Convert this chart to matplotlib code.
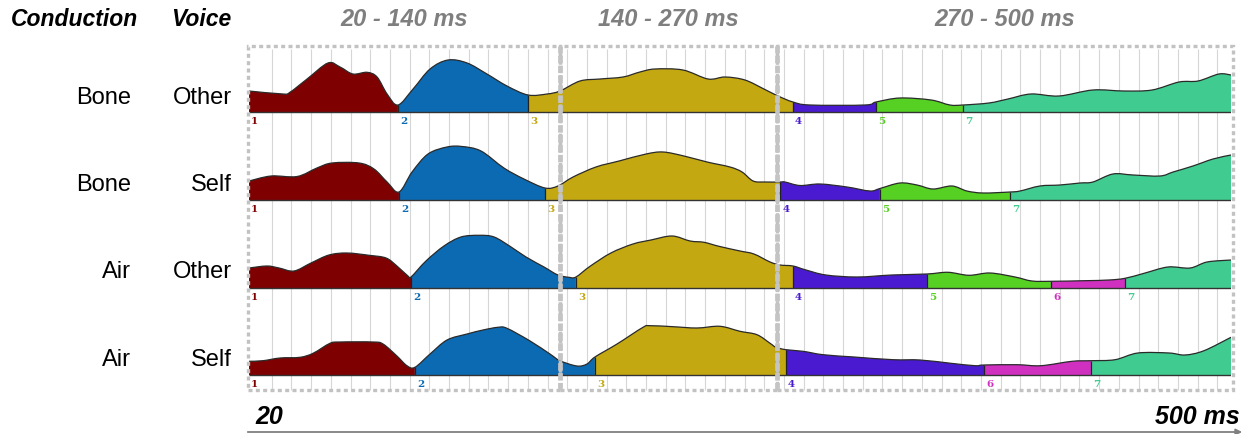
import numpy as np
import matplotlib
matplotlib.use("Agg")
import matplotlib.pyplot as plt
from matplotlib.patches import Rectangle, FancyArrowPatch, PathPatch
from matplotlib.path import Path
from matplotlib.lines import Line2D

plt.rcParams["font.family"] = ["Liberation Sans", "DejaVu Sans"]

W, H = 1247, 435

conduction = ["Bone", "Bone", "Air", "Air"]
voice = ["Other", "Self", "Other", "Self"]
windows = ["20 - 140 ms", "140 - 270 ms", "270 - 500 ms"]

map_colors = {1: "#7f0000", 2: "#0b6ab2", 3: "#c4a812", 4: "#4a1ad0",
              5: "#56d022", 6: "#d030c0", 7: "#40cc90"}

# GFP traces (ms, amplitude) and microstate segment boundaries per condition
bone_other_t = [20.0, 36.6, 40.0, 48.4, 58.6, 64.5, 70.8, 77.7, 82.6, 87.5, 92.8,
                100.2, 108.5, 117.3, 126.6, 136.3, 146.1, 156.4, 165.7, 172.0, 181.8,
                191.6, 202.8, 211.1, 218.5, 232.1, 244.4, 252.7, 262.4, 271.7, 278.6,
                285.9, 294.2, 321.1, 326.5, 338.2, 353.4, 362.6, 369.0, 381.7, 391.0,
                402.2, 415.9, 432.5, 447.7, 461.4, 474.6, 483.9, 494.1, 500.0]
bone_other_gfp = [2.1, 1.8, 1.97, 3.3, 4.9, 4.5, 3.8, 3.97, 3.5, 1.8, 0.7,
                  2.3, 4.3, 5.2, 4.9, 3.8, 2.6, 1.7, 1.8, 2.1, 3.1,
                  3.3, 3.5, 4.0, 4.3, 4.2, 3.3, 3.5, 3.2, 2.3, 1.6,
                  1.0, 0.7, 0.7, 1.0, 1.4, 1.2, 0.7, 0.7, 0.9, 1.3,
                  1.8, 1.6, 2.2, 2.1, 2.2, 3.0, 3.1, 3.8, 3.7]
bone_other_bounds = [20.0, 92.8, 156.4, 285.9, 326.5, 369.0, 500.0]
bone_other_maps = [1, 2, 3, 4, 5, 7]

bone_self_t = [20.0, 30.8, 43.5, 53.2, 60.6, 73.8, 81.1, 87.5, 93.3, 99.7, 107.5,
               116.8, 124.1, 133.4, 144.6, 154.4, 164.7, 171.0, 178.4, 189.6, 200.9,
               214.1, 222.4, 232.6, 243.9, 255.1, 261.0, 266.4, 272.2, 279.6, 282.0,
               289.3, 299.1, 312.3, 323.5, 328.4, 338.2, 346.5, 354.3, 363.6, 370.9,
               378.8, 392.0, 396.9, 406.6, 416.4, 426.2, 432.5, 442.3, 452.1, 465.3,
               471.7, 481.4, 491.2, 500.0]
bone_self_gfp = [1.9, 2.4, 2.35, 3.2, 3.7, 3.7, 3.1, 1.8, 0.8, 2.8, 4.6,
                 5.3, 5.35, 4.9, 3.2, 2.1, 1.2, 1.4, 2.3, 3.3, 3.9,
                 4.6, 4.8, 4.4, 3.8, 3.3, 2.8, 1.9, 1.8, 1.8, 1.8,
                 1.45, 1.6, 1.3, 0.9, 1.15, 1.7, 1.5, 1.1, 1.4, 0.9,
                 0.7, 0.8, 0.9, 1.4, 1.5, 1.7, 1.8, 2.6, 2.5, 2.4,
                 2.8, 3.4, 4.1, 4.5]
bone_self_bounds = [20.0, 93.3, 164.7, 279.6, 328.4, 392.0, 500.0]
bone_self_maps = [1, 2, 3, 4, 5, 7]

air_other_t = [20.0, 28.8, 34.7, 42.0, 50.3, 59.1, 67.9, 78.7, 87.0, 92.3, 97.7,
               99.2, 106.5, 115.3, 123.6, 132.4, 139.8, 148.1, 155.4, 164.2, 171.0,
               176.4, 179.8, 186.7, 196.9, 207.7, 216.5, 226.8, 235.6, 242.4, 249.7,
               260.0, 266.8, 274.7, 279.6, 285.9, 291.8, 302.0, 317.2, 334.3, 351.4,
               361.7, 371.9, 382.2, 394.4, 402.7, 412.0, 428.6, 440.4, 448.2, 457.5,
               469.2, 480.0, 488.3, 500.0]
air_other_gfp = [2.0, 2.2, 2.0, 1.7, 2.5, 3.3, 3.5, 3.27, 3.0, 2.2, 1.2,
                 1.1, 2.7, 4.2, 5.1, 5.27, 5.1, 4.1, 3.1, 2.1, 1.3,
                 1.07, 1.1, 2.17, 3.5, 4.4, 4.8, 5.2, 4.7, 4.57, 4.17,
                 3.7, 3.4, 2.6, 2.3, 2.2, 1.83, 1.3, 1.1, 1.3, 1.4,
                 1.57, 1.27, 1.5, 1.1, 0.7, 0.67, 0.73, 0.8, 0.97, 1.47,
                 2.1, 2.0, 2.6, 2.8]
air_other_bounds = [20.0, 99.2, 179.8, 285.9, 351.4, 412.0, 448.2, 500.0]
air_other_maps = [1, 2, 3, 4, 5, 6, 7]

air_self_t = [20.0, 26.8, 35.2, 44.9, 51.3, 59.6, 64.5, 80.6, 85.5, 92.3, 97.2,
              101.1, 108.5, 116.8, 126.6, 134.4, 141.7, 146.1, 157.4, 167.1, 172.0,
              180.3, 185.2, 189.1, 199.9, 212.6, 216.0, 227.3, 239.0, 250.2, 260.0,
              268.3, 274.7, 277.6, 282.5, 290.8, 300.6, 315.7, 334.8, 348.0, 363.1,
              374.9, 379.3, 395.4, 407.1, 422.3, 431.6, 443.3, 454.5, 469.7, 477.5,
              486.8, 500.0]
air_self_gfp = [1.37, 1.43, 1.7, 1.77, 2.17, 3.17, 3.3, 3.3, 3.1, 1.9, 0.93,
                0.77, 2.1, 3.5, 4.1, 4.5, 4.77, 4.67, 3.4, 2.1, 1.43,
                0.9, 1.1, 1.8, 3.1, 4.77, 4.93, 4.83, 4.7, 4.87, 4.37,
                4.03, 3.17, 2.77, 2.53, 2.37, 2.03, 1.8, 1.53, 1.5, 1.17,
                0.93, 1.0, 1.03, 0.93, 1.37, 1.43, 1.53, 2.2, 2.2, 2.0,
                2.43, 3.77]
air_self_bounds = [20.0, 101.1, 189.1, 282.5, 379.3, 431.6, 500.0]
air_self_maps = [1, 2, 3, 4, 6, 7]

rows = [
    (bone_other_t, bone_other_gfp, bone_other_bounds, bone_other_maps),
    (bone_self_t, bone_self_gfp, bone_self_bounds, bone_self_maps),
    (air_other_t, air_other_gfp, air_other_bounds, air_other_maps),
    (air_self_t, air_self_gfp, air_self_bounds, air_self_maps),
]

# layout (pixels from top-left)
row_base_px = [113, 201, 289, 376]
row_text_px = [98, 185, 272, 360]
strip_x0, strip_x1 = 249, 1231
ax_top, ax_bot = 40, 395
box_px = [248, 560, 777, 1233]
box_top, box_bot = 47, 391


def fx(px):
    return px / W


def fy(py):
    return 1 - py / H


def smooth_ctrl(P):
    # Catmull-Rom handles as cubic Bezier control points
    Pm = np.vstack([P[0], P, P[-1]])
    n = len(P)
    c1 = P[:-1] + (Pm[2:n + 1] - Pm[0:n - 1]) / 6
    c2 = P[1:] - (Pm[3:n + 2] - Pm[1:n]) / 6
    return c1, c2


def curve_verts(P, c1, c2, i0, i1):
    verts = [P[i0]]
    codes = [Path.MOVETO]
    for i in range(i0, i1):
        verts += [c1[i], c2[i], P[i + 1]]
        codes += [Path.CURVE4] * 3
    return verts, codes


fig = plt.figure(figsize=(W / 100, H / 100), dpi=100)
ax = fig.add_axes([fx(strip_x0), fy(ax_bot), (strip_x1 - strip_x0) / W, (ax_bot - ax_top) / H])
ax.set_xlim(20, 500)
ax.set_ylim(0, (ax_bot - ax_top) / 10)
ax.axis("off")

# time grid
grid_x = 31.1 + 9.63 * np.arange(49)
ax.vlines(grid_x, (ax_bot - box_bot) / 10, (ax_bot - 50) / 10, color="#d6d6d6", lw=0.8, zorder=0)

for (t, g, bounds, maps), base_px in zip(rows, row_base_px):
    t = np.array(t)
    g = np.array(g)
    base = (ax_bot - base_px) / 10
    P = np.column_stack([t, base + g])
    c1, c2 = smooth_ctrl(P)
    idx = [int(np.where(t == b)[0][0]) for b in bounds]
    for i0, i1, m in zip(idx[:-1], idx[1:], maps):
        verts, codes = curve_verts(P, c1, c2, i0, i1)
        verts += [(t[i1], base), (t[i0], base), (t[i0], base)]
        codes += [Path.LINETO, Path.LINETO, Path.CLOSEPOLY]
        ax.add_patch(PathPatch(Path(verts, codes), fc=map_colors[m], lw=0, zorder=2))
        b0 = t[i0]
        lx = b0 + 1.0 if b0 > 20 else 21.0
        ax.text(lx, base - 0.85, str(m), color=map_colors[m], fontsize=7.5,
                fontweight="bold", family="DejaVu Serif", ha="left", va="center", zorder=4)
    for i in idx[1:-1]:
        ax.vlines(t[i], base, base + g[i], color="#222222", lw=0.9, zorder=3)
    verts, codes = curve_verts(P, c1, c2, 0, len(t) - 1)
    ax.add_patch(PathPatch(Path(verts, codes), fill=False, ec="#2a2a2a", lw=0.9, zorder=3))
    ax.hlines(base, 20, 500, color="#333333", lw=1.0, zorder=3)

# time-window boxes
for x0, x1 in zip(box_px[:-1], box_px[1:]):
    fig.add_artist(Rectangle((fx(x0), fy(box_bot)), (x1 - x0) / W, (box_bot - box_top) / H,
                             transform=fig.transFigure, fill=False, ec="#c2c2c2",
                             lw=2.4, linestyle=(0, (1.2, 1.0)), zorder=5))
# shared edges between windows are drawn heavier
for xd in box_px[1:-1]:
    fig.add_artist(Line2D([fx(xd), fx(xd)], [fy(box_bot), fy(box_top)], transform=fig.transFigure,
                          color="#c4c4c4", lw=3.4, linestyle=(0, (1.6, 0.5)), zorder=5))

for x0, x1, lab in zip(box_px[:-1], box_px[1:], windows):
    fig.text(fx((x0 + x1) / 2), fy(20), lab, ha="center", va="center", fontsize=17,
             fontweight="bold", style="italic", color="#7f7f7f")

fig.text(fx(74), fy(20), "Conduction", ha="center", va="center", fontsize=16.5,
         fontweight="bold", style="italic")
fig.text(fx(201), fy(20), "Voice", ha="center", va="center", fontsize=16.5,
         fontweight="bold", style="italic")

for c, v, py in zip(conduction, voice, row_text_px):
    fig.text(fx(131), fy(py), c, ha="right", va="center", fontsize=17)
    fig.text(fx(232), fy(py), v, ha="right", va="center", fontsize=17)

fig.text(fx(255), fy(417), "20", ha="left", va="center", fontsize=18,
         fontweight="bold", style="italic")
fig.text(fx(1240), fy(417), "500 ms", ha="right", va="center", fontsize=18,
         fontweight="bold", style="italic")
fig.add_artist(FancyArrowPatch((fx(245), fy(433)), (fx(1245), fy(433)), transform=fig.transFigure,
                               arrowstyle="-|>", mutation_scale=9, color="#808080", lw=1.3))

fig.savefig("out.png", dpi=100)
